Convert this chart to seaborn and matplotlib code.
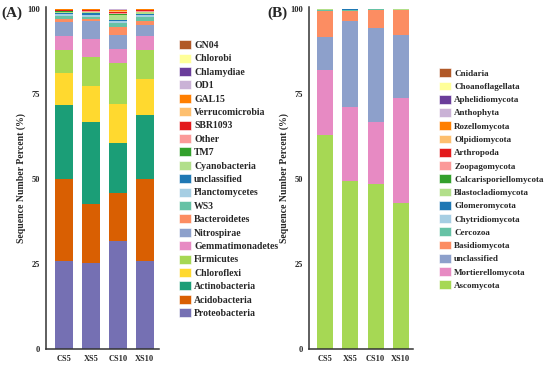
import numpy as np
import pandas as pd
import matplotlib
matplotlib.use('Agg')
import matplotlib.pyplot as plt
import seaborn as sns
from matplotlib.patches import Patch

#-------------------------------------------------------------------------

samples = ['CS5', 'XS5', 'CS10', 'XS10']

# Bacteria (panel A), bottom to top
bac_taxa = ['Proteobacteria', 'Acidobacteria', 'Actinobacteria', 'Chloroflexi',
            'Firmicutes', 'Gemmatimonadetes', 'Nitrospirae', 'Bacteroidetes',
            'WS3', 'Planctomycetes', 'unclassified', 'Cyanobacteria', 'TM7',
            'Other', 'SBR1093', 'Verrucomicrobia', 'GAL15', 'OD1',
            'Chlamydiae', 'Chlorobi', 'GN04']
bac_colors = ['#7570b3', '#d95f02', '#1b9e77', '#ffd92f', '#a6d854', '#e78ac3',
              '#8da0cb', '#fc8d62', '#66c2a5', '#a6cee3', '#1f78b4', '#b2df8a',
              '#33a02c', '#fb9a99', '#e31a1c', '#fdbf6f', '#ff7f00', '#cab2d6',
              '#6a3d9a', '#ffff99', '#b15928']
# percent values per sample: CS5, XS5, CS10, XS10
bac_vals = [
    [25.8, 25.3, 31.8, 25.8],   # Proteobacteria
    [24.3, 17.2, 14.0, 24.2],   # Acidobacteria
    [21.7, 24.3, 14.7, 18.7],   # Actinobacteria
    [9.3, 10.6, 11.6, 10.7],    # Chloroflexi
    [6.7, 8.5, 11.9, 8.6],      # Firmicutes
    [4.3, 5.4, 4.1, 4.1],       # Gemmatimonadetes
    [4.2, 5.3, 4.1, 3.2],       # Nitrospirae
    [0.7, 0.5, 2.4, 1.2],       # Bacteroidetes
    [0.9, 0.6, 1.4, 1.2],       # WS3
    [0.6, 0.5, 0.4, 0.5],       # Planctomycetes
    [0.4, 0.5, 0.4, 0.4],       # unclassified
    [0.3, 0.3, 1.4, 0.4],       # Cyanobacteria
    [0.15, 0.2, 0.3, 0.2],      # TM7
    [0.2, 0.2, 0.3, 0.2],       # Other
    [0.1, 0.2, 0.4, 0.2],       # SBR1093
    [0.15, 0.1, 0.3, 0.1],      # Verrucomicrobia
    [0.1, 0.2, 0.3, 0.2],       # GAL15
    [0.05, 0.05, 0.1, 0.05],    # OD1
    [0.02, 0.02, 0.05, 0.02],   # Chlamydiae
    [0.02, 0.02, 0.02, 0.02],   # Chlorobi
    [0.01, 0.01, 0.03, 0.01],   # GN04
]

# Fungi (panel B), bottom to top
fun_taxa = ['Ascomycota', 'Mortierellomycota', 'unclassified', 'Basidiomycota',
            'Cercozoa', 'Chytridiomycota', 'Glomeromycota', 'Blastocladiomycota',
            'Calcarisporiellomycota', 'Zoopagomycota', 'Arthropoda',
            'Olpidiomycota', 'Rozellomycota', 'Anthophyta', 'Aphelidiomycota',
            'Choanoflagellata', 'Cnidaria']
fun_colors = ['#a6d854', '#e78ac3', '#8da0cb', '#fc8d62', '#66c2a5', '#a6cee3',
              '#1f78b4', '#b2df8a', '#33a02c', '#fb9a99', '#e31a1c', '#fdbf6f',
              '#ff7f00', '#cab2d6', '#6a3d9a', '#ffff99', '#b15928']
fun_vals = [
    [63.0, 49.5, 48.6, 42.9],   # Ascomycota
    [19.1, 21.8, 18.3, 31.0],   # Mortierellomycota
    [9.8, 25.2, 27.5, 18.5],    # unclassified
    [7.5, 2.9, 5.4, 7.3],       # Basidiomycota
    [0.3, 0.4, 0.08, 0.1],      # Cercozoa
    [0.1, 0.05, 0.03, 0.05],    # Chytridiomycota
    [0.05, 0.05, 0.03, 0.03],   # Glomeromycota
    [0.05, 0.03, 0.02, 0.1],    # Blastocladiomycota
    [0.03, 0.02, 0.01, 0.02],   # Calcarisporiellomycota
    [0.02, 0.02, 0.01, 0.01],   # Zoopagomycota
    [0.01, 0.01, 0.01, 0.01],   # Arthropoda
    [0.01, 0.01, 0.01, 0.01],   # Olpidiomycota
    [0.01, 0.01, 0.01, 0.01],   # Rozellomycota
    [0.01, 0.005, 0.005, 0.005],  # Anthophyta
    [0.005, 0.005, 0.005, 0.005],  # Aphelidiomycota
    [0.005, 0.005, 0.005, 0.005],  # Choanoflagellata
    [0.005, 0.005, 0.005, 0.005],  # Cnidaria
]

#-------------------------------------------------------------------------

SERIF = ['Liberation Serif', 'DejaVu Serif']

# Stacked bars: draw cumulative totals from the top layer down
def plot_stacked(ax, taxa, colors, vals, width):
    vals = np.array(vals, dtype=float)
    vals = vals / vals.sum(axis=0) * 100
    cum = np.cumsum(vals, axis=0)
    for i in range(len(taxa) - 1, -1, -1):
        df = pd.DataFrame({'Sample': samples, 'Percent': cum[i]})
        sns.barplot(data=df, x='Sample', y='Percent', order=samples,
                    color=colors[i], saturation=1, width=width,
                    edgecolor='none', linewidth=0, ax=ax)

    ax.set_ylim(0, 100.6)
    ax.set_yticks([0, 25, 50, 75, 100])
    ax.set_xlabel('')
    ax.set_ylabel('Sequence Number Percent (%)', fontsize=7,
                  fontweight='bold', family=SERIF, labelpad=1)
    for lab in ax.get_xticklabels() + ax.get_yticklabels():
        lab.set_fontsize(6)
        lab.set_fontweight('bold')
        lab.set_family(SERIF)
    ax.tick_params(axis='both', length=2.5, width=0.8, color='#333333', pad=2)
    for s in ['top', 'right']:
        ax.spines[s].set_visible(False)
    for s in ['left', 'bottom']:
        ax.spines[s].set_color('#333333')
        ax.spines[s].set_linewidth(1.1)


def add_legend(fig, taxa, colors, x, y, size, spacing):
    handles = [Patch(facecolor=c, edgecolor='white', linewidth=0.4, label=t)
               for t, c in zip(taxa, colors)]
    handles = handles[::-1]
    fig.legend(handles=handles, loc='upper left', bbox_to_anchor=(x, y),
               frameon=False, borderpad=0, borderaxespad=0,
               handlelength=9.0 / size, handleheight=7.3 / size,
               handletextpad=2.0 / size, labelspacing=spacing,
               prop={'family': SERIF, 'weight': 'bold', 'size': size})

#-------------------------------------------------------------------------

def main():
    sns.set_style('white')
    plt.rcParams['font.family'] = SERIF

    fig = plt.figure(figsize=(5.5, 3.65), dpi=100)
    ax_a = fig.add_axes([0.0836, 0.044, 0.205, 0.937])
    ax_b = fig.add_axes([0.5618, 0.044, 0.189, 0.937])

    plot_stacked(ax_a, bac_taxa, bac_colors, bac_vals, width=0.67)
    ax_a.set_xlim(-0.67, 3.52)
    plot_stacked(ax_b, fun_taxa, fun_colors, fun_vals, width=0.64)
    ax_b.set_xlim(-0.64, 3.48)

    add_legend(fig, bac_taxa, bac_colors, 0.325, 0.89, 7, 0.37)
    add_legend(fig, fun_taxa, fun_colors, 0.798, 0.813, 6.5, 0.42)

    fig.text(0.003, 0.963, '(A)', fontsize=11, fontweight='bold',
             family=SERIF, va='center')
    fig.text(0.487, 0.963, '(B)', fontsize=11, fontweight='bold',
             family=SERIF, va='center')

    fig.savefig('out.png', dpi=100)


if __name__ == '__main__':
    main()
